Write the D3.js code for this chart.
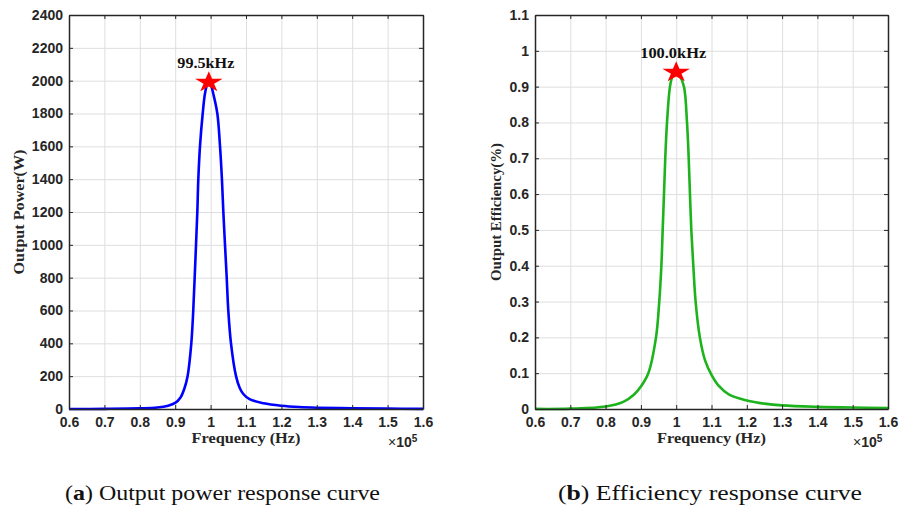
<!DOCTYPE html>
<html>
<head>
<meta charset="utf-8">
<script src="https://cdn.jsdelivr.net/npm/d3@7"></script>
<style>
  body { margin: 0; background: #fff; }
  svg { display: block; }
  .tick text { font-family: "Liberation Sans", Arial, sans-serif; font-weight: bold; font-size: 14px; fill: #262626; }
  .axis path, .axis line { stroke: #262626; }
  .grid line { stroke: #dedede; stroke-width: 1; }
  .grid path { stroke: none; }
</style>
</head>
<body>
<svg id="chart" width="907" height="511"></svg>
<script>
// x axis values are in units of 1e5 Hz
const xTickValues = [0.6, 0.7, 0.8, 0.9, 1.0, 1.1, 1.2, 1.3, 1.4, 1.5, 1.6];
const powerTicks = [0, 200, 400, 600, 800, 1000, 1200, 1400, 1600, 1800, 2000, 2200, 2400];
const effTicks = [0, 0.1, 0.2, 0.3, 0.4, 0.5, 0.6, 0.7, 0.8, 0.9, 1.0, 1.1];

const powerFreq = [0.60, 0.70, 0.80, 0.85, 0.88, 0.90, 0.915, 0.926, 0.935, 0.9455, 0.951, 0.955, 0.9588, 0.9625, 0.9653, 0.970, 0.9777, 0.984, 0.990, 0.995, 1.001, 1.0076, 1.019, 1.0266, 1.032, 1.036, 1.0407, 1.0455, 1.05, 1.0576, 1.0718, 1.082, 1.093, 1.11, 1.15, 1.20, 1.25, 1.30, 1.40, 1.50, 1.60];
const powerValues = [0, 1, 4, 9, 20, 37, 70, 125, 200, 400, 600, 800, 1000, 1200, 1400, 1600, 1800, 1920, 1975, 1988, 1972, 1920, 1800, 1600, 1400, 1200, 1000, 800, 600, 400, 200, 130, 90, 60, 35, 20, 12, 8, 4, 2, 1];

const effFreq = [0.60, 0.70, 0.80, 0.85, 0.88, 0.90, 0.921, 0.9428, 0.952, 0.958, 0.9617, 0.9654, 0.969, 0.974, 0.9824, 0.990, 1.0, 1.010, 1.022, 1.0306, 1.0354, 1.039, 1.0428, 1.0485, 1.055, 1.067, 1.082, 1.10, 1.12, 1.15, 1.20, 1.25, 1.30, 1.40, 1.50, 1.60];
const effValues = [0.0003, 0.001, 0.007, 0.02, 0.04, 0.063, 0.1, 0.2, 0.3, 0.4, 0.5, 0.6, 0.7, 0.8, 0.9, 0.93, 0.94, 0.93, 0.9, 0.8, 0.7, 0.6, 0.5, 0.4, 0.3, 0.2, 0.135, 0.095, 0.065, 0.04, 0.024, 0.015, 0.01, 0.006, 0.004, 0.003];

const powerPeak = { f: 0.995, v: 1990, label: "99.5kHz" };
const effPeak = { f: 1.0, v: 0.94, label: "100.0kHz" };

const svg = d3.select("#chart");
svg.append("rect").attr("width", 907).attr("height", 511).attr("fill", "#fff");

function drawPanel(opts) {
  const x = d3.scaleLinear().domain([0.6, 1.6]).range([opts.left, opts.right]);
  const y = d3.scaleLinear().domain(opts.yDomain).range([409, 15]);
  const g = svg.append("g");
  const h = 409 - 15;
  const w = opts.right - opts.left;

  // grid
  g.append("g").attr("class", "grid")
    .attr("transform", "translate(0,409)")
    .call(d3.axisBottom(x).tickValues(xTickValues).tickSize(-h).tickFormat(""));
  g.append("g").attr("class", "grid")
    .attr("transform", `translate(${opts.left},0)`)
    .call(d3.axisLeft(y).tickValues(opts.yTicks).tickSize(-w).tickFormat(""));

  // data line
  const line = d3.line()
    .x(function(d) { return x(d[0]); })
    .y(function(d) { return y(d[1]); })
    .curve(d3.curveCatmullRom.alpha(0.5));
  g.append("path")
    .datum(opts.freq.map(function(f, i) { return [f, opts.values[i]]; }))
    .attr("fill", "none")
    .attr("stroke", opts.color)
    .attr("stroke-width", 2.6)
    .attr("d", line);

  // axes, ticks inward on all four sides
  g.append("g").attr("class", "axis")
    .attr("transform", "translate(0,409)")
    .call(d3.axisBottom(x).tickValues(xTickValues).tickSizeInner(-4).tickSizeOuter(0).tickPadding(8)
      .tickFormat(d3.format("~g")));
  g.append("g").attr("class", "axis")
    .attr("transform", "translate(0,15)")
    .call(d3.axisTop(x).tickValues(xTickValues).tickSizeInner(-4).tickSizeOuter(0).tickFormat(""));
  g.append("g").attr("class", "axis")
    .attr("transform", `translate(${opts.left},0)`)
    .call(d3.axisLeft(y).tickValues(opts.yTicks).tickSizeInner(-4).tickSizeOuter(0).tickPadding(6)
      .tickFormat(d3.format("~g")));
  g.append("g").attr("class", "axis")
    .attr("transform", `translate(${opts.right},0)`)
    .call(d3.axisRight(y).tickValues(opts.yTicks).tickSizeInner(-4).tickSizeOuter(0).tickFormat(""));
  g.selectAll(".axis path").attr("stroke-width", 1.5);

  // peak marker
  const px = x(opts.peak.f), py = y(opts.peak.v);
  g.append("path")
    .attr("d", d3.symbol(d3.symbolStar).size(140)())
    .attr("transform", `translate(${px},${py}) scale(1.3,1)`)
    .attr("fill", "#ff0000");
  g.append("text")
    .attr("x", px - 3).attr("y", py - 14)
    .attr("text-anchor", "middle")
    .attr("font-family", "Liberation Serif, Times New Roman, serif")
    .attr("font-weight", "bold").attr("font-size", 14)
    .attr("textLength", opts.peakLabelLen).attr("lengthAdjust", "spacingAndGlyphs")
    .attr("fill", "#111")
    .text(opts.peak.label);

  // axis labels
  const mid = (opts.left + opts.right) / 2;
  g.append("text")
    .attr("x", mid).attr("y", 443)
    .attr("text-anchor", "middle")
    .attr("font-family", "Liberation Serif, Times New Roman, serif")
    .attr("font-weight", "bold").attr("font-size", 15)
    .attr("textLength", 109).attr("lengthAdjust", "spacingAndGlyphs")
    .attr("fill", "#262626")
    .text("Frequency (Hz)");
  g.append("text")
    .attr("transform", `translate(${opts.yLabelX},212) rotate(-90)`)
    .attr("text-anchor", "middle")
    .attr("font-family", "Liberation Serif, Times New Roman, serif")
    .attr("font-weight", "bold").attr("font-size", 14)
    .attr("textLength", opts.yLabelLen).attr("lengthAdjust", "spacingAndGlyphs")
    .attr("fill", "#262626")
    .text(opts.yLabel);

  // exponent
  const ex = g.append("text")
    .attr("x", opts.right - 35).attr("y", 447)
    .attr("font-family", "Liberation Sans, Arial, sans-serif")
    .attr("font-size", 14)
    .attr("fill", "#262626");
  ex.append("tspan").text("\u00d7");
  ex.append("tspan").attr("font-weight", "bold").text("10");
  ex.append("tspan").attr("dy", -5).attr("font-size", 10).attr("font-weight", "bold").text("5");

  // caption
  const cap = svg.append("text")
    .attr("x", opts.capX).attr("y", 500)
    .attr("font-family", "Liberation Serif, Times New Roman, serif")
    .attr("font-size", 21)
    .attr("textLength", opts.capLen).attr("lengthAdjust", "spacingAndGlyphs")
    .attr("fill", "#111");
  cap.append("tspan").text("(");
  cap.append("tspan").attr("font-weight", "bold").text(opts.capLetter);
  cap.append("tspan").text(") " + opts.caption);
}

drawPanel({
  left: 69, right: 423,
  yDomain: [0, 2400], yTicks: powerTicks,
  freq: powerFreq, values: powerValues,
  color: "#0000ff", peak: powerPeak, peakLabelLen: 57,
  yLabel: "Output Power(W)", yLabelX: 24, yLabelLen: 125,
  capX: 65, capLen: 315, capLetter: "a", caption: "Output power response curve"
});

drawPanel({
  left: 535, right: 888,
  yDomain: [0, 1.1], yTicks: effTicks,
  freq: effFreq, values: effValues,
  color: "#1db31d", peak: effPeak, peakLabelLen: 66,
  yLabel: "Output Efficiency(%)", yLabelX: 501, yLabelLen: 138,
  capX: 558, capLen: 304, capLetter: "b", caption: "Efficiency response curve"
});
</script>
</body>
</html>
